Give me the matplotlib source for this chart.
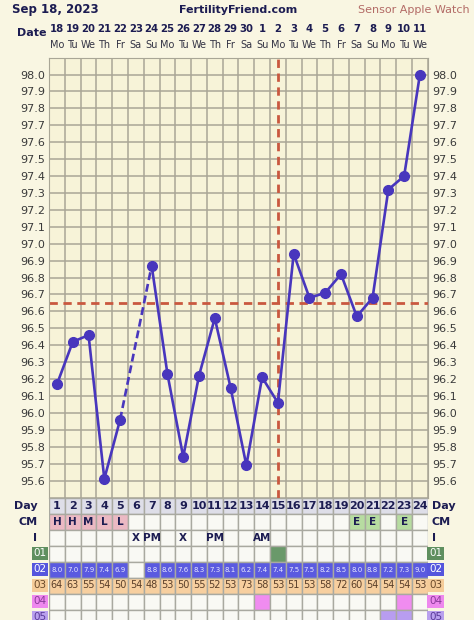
import numpy as np
import matplotlib
matplotlib.use("Agg")
import matplotlib.pyplot as plt
import matplotlib.transforms as mtrans

# chart data
days = list(range(1, 25))
dates = ['18', '19', '20', '21', '22', '23', '24', '25', '26', '27', '28', '29', '30',
         '1', '2', '3', '4', '5', '6', '7', '8', '9', '10', '11']
weekdays = ['Mo', 'Tu', 'We', 'Th', 'Fr', 'Sa', 'Su'] * 4
temps = [96.17, 96.42, 96.46, 95.61, 95.96, np.nan, 96.87, 96.23, 95.74, 96.22,
         96.56, 96.15, 95.69, 96.21, 96.06, 96.94, 96.68, 96.71, 96.82, 96.57,
         96.68, 97.32, 97.40, 98.00]
coverline = 96.65
ovulation_day = 15

cm = ['H', 'H', 'M', 'L', 'L', '', '', '', '', '', '', '', '', '', '', '', '', '', '',
      'E', 'E', '', 'E', '']
intercourse = ['', '', '', '', '', 'X', 'PM', '', 'X', '', 'PM', '', '', 'AM', '', '',
               '', '', '', '', '', '', '', '']
row01 = [15]
row02 = ['8.0', '7.0', '7.9', '7.4', '6.9', '', '8.8', '8.6', '7.6', '8.3', '7.3', '8.1',
         '6.2', '7.4', '7.4', '7.5', '7.5', '8.2', '8.5', '8.0', '8.8', '7.2', '7.3', '9.0']
row03 = ['64', '63', '55', '54', '50', '54', '48', '53', '50', '55', '52', '53',
         '73', '58', '53', '51', '53', '58', '72', '60', '54', '54', '54', '53']
row04 = [14, 23]
row05 = [22, 23]

W, H = 474, 620
bg = '#f9f6e2'
grid_c = '#a9a696'
navy = '#1c1c52'
line_c = '#4836bd'

fig = plt.figure(figsize=(W / 100, H / 100), dpi=100, facecolor=bg)

def fx(x):
    return x / W

def fy(y):
    return 1 - y / H

x0, x1 = 49.1, 427.8
y_top, y_bot = 57.6, 497.5
ax = fig.add_axes([fx(x0), fy(y_bot), fx(x1) - fx(x0), fy(y_top) - fy(y_bot)])
ax.set_facecolor('#f7f3d8')
ax.set_xlim(0.5, 24.5)
ax.set_ylim(95.5, 98.1)
for d in np.arange(0.5, 25, 1):
    ax.axvline(d, color=grid_c, lw=1.1, zorder=1)
for t in np.arange(95.5, 98.15, 0.1):
    ax.axhline(t, color=grid_c, lw=1.1, zorder=1)
for s in ax.spines.values():
    s.set_color(grid_c)
ax.set_xticks([])
ticks = np.round(np.arange(95.6, 98.05, 0.1), 1)
ax.set_yticks(ticks)
ax.set_yticklabels([f'{t:.1f}' for t in ticks])
ax.tick_params(axis='y', length=0, labelsize=8, labelcolor='#3a3a3a', pad=3,
               left=True, right=True, labelleft=True, labelright=True)

# coverline and ovulation line
ax.axhline(coverline, color='#c9583f', lw=2, ls=(0, (3, 2)), zorder=2)
ax.axvline(ovulation_day, color='#c9583f', lw=2, ls=(0, (3, 2)), zorder=2)

# temperature line
t_arr = np.array(temps)
ax.plot(days, t_arr, color=line_c, lw=1.9, zorder=3)
for i in range(1, len(days) - 1):
    if np.isnan(t_arr[i]):
        ax.plot([days[i - 1], days[i + 1]], [t_arr[i - 1], t_arr[i + 1]],
                color=line_c, lw=1.9, ls=(0, (3, 1.5)), zorder=3)
ax.plot(days, t_arr, 'o', color=line_c, ms=7, zorder=4)

# header
fig.text(fx(12), fy(10), 'Sep 18, 2023', fontsize=8.5, fontweight='bold', color=navy,
         ha='left', va='center')
fig.text(fx(238), fy(10), 'FertilityFriend.com', fontsize=8, fontweight='bold',
         color=navy, ha='center', va='center')
fig.text(fx(470), fy(10), 'Sensor Apple Watch', fontsize=8, color='#b36b66',
         ha='right', va='center')
fig.text(fx(46), fy(33), 'Date', fontsize=8, fontweight='bold', color=navy,
         ha='right', va='center')
tr = mtrans.blended_transform_factory(ax.transData, fig.transFigure)
for d, dt, wd in zip(days, dates, weekdays):
    ax.text(d, fy(29), dt, transform=tr, fontsize=7.3, fontweight='bold', color=navy,
            ha='center', va='center')
    ax.text(d, fy(45), wd, transform=tr, fontsize=7, color='#333344',
            ha='center', va='center')

# bottom table
row_h = 16
tb = fig.add_axes([fx(x0), 0, fx(x1) - fx(x0), fy(y_bot)])
n_rows = (H - y_bot) / row_h
tb.set_xlim(0.5, 24.5)
tb.set_ylim(n_rows, 0)
tb.axis('off')

empty = '#f9f9f4'
cell_edge = '#a9a9a0'
cm_col = {'H': '#ebb9c3', 'M': '#ebb9c3', 'L': '#ebb9c3', 'E': '#b7dca1', '': empty}
row_colors = [
    ['#dedee8'] * 24,
    [cm_col[c] for c in cm],
    [empty] * 24,
    ['#6a996a' if d in row01 else empty for d in days],
    ['#5a5ae0' if v else empty for v in row02],
    ['#f7cf9f'] * 24,
    ['#f08cf0' if d in row04 else empty for d in days],
    ['#b89df0' if d in row05 else empty for d in days],
]
for r, cols in enumerate(row_colors):
    tb.bar(days, 1, bottom=r, width=1, color=cols, edgecolor=cell_edge, lw=1)

for d, c, i, v2, v3 in zip(days, cm, intercourse, row02, row03):
    tb.text(d, 0.55, str(d), fontsize=8, fontweight='bold', color=navy,
            ha='center', va='center')
    tb.text(d, 1.55, c, fontsize=7.5, fontweight='bold', color=navy,
            ha='center', va='center')
    tb.text(d, 2.55, i, fontsize=7.5, fontweight='bold', color=navy,
            ha='center', va='center')
    tb.text(d, 4.5, v2, fontsize=5, color='#e8e8ff', ha='center', va='center')
    tb.text(d, 5.5, v3, fontsize=7, color='#5a3f2a', ha='center', va='center')

# row labels on both sides
tlabels = ['Day', 'CM', 'I']
for r, lab in enumerate(tlabels):
    tb.text(-0.25, r + 0.55, lab, fontsize=8, fontweight='bold', color=navy,
            ha='right', va='center', clip_on=False)
    tb.text(24.75, r + 0.55, lab, fontsize=8, fontweight='bold', color=navy,
            ha='left', va='center', clip_on=False)
boxes = [('01', '#5f8f5f', 'white'), ('02', '#5555dd', 'white'),
         ('03', '#f5cc99', '#6a4a2a'), ('04', '#ee88ee', '#8a3a9a'),
         ('05', '#b9a0ee', '#5a3a9a')]
for k, (lab, fc, tc) in enumerate(boxes):
    r = 3 + k
    for xc in (-0.08, 24.99):
        tb.text(xc, r + 0.5, lab, fontsize=7.5, color=tc, ha='center', va='center',
                clip_on=False,
                bbox=dict(boxstyle='square,pad=0.15', fc=fc, ec='none'))

fig.savefig('out.png', dpi=100, facecolor=bg)
